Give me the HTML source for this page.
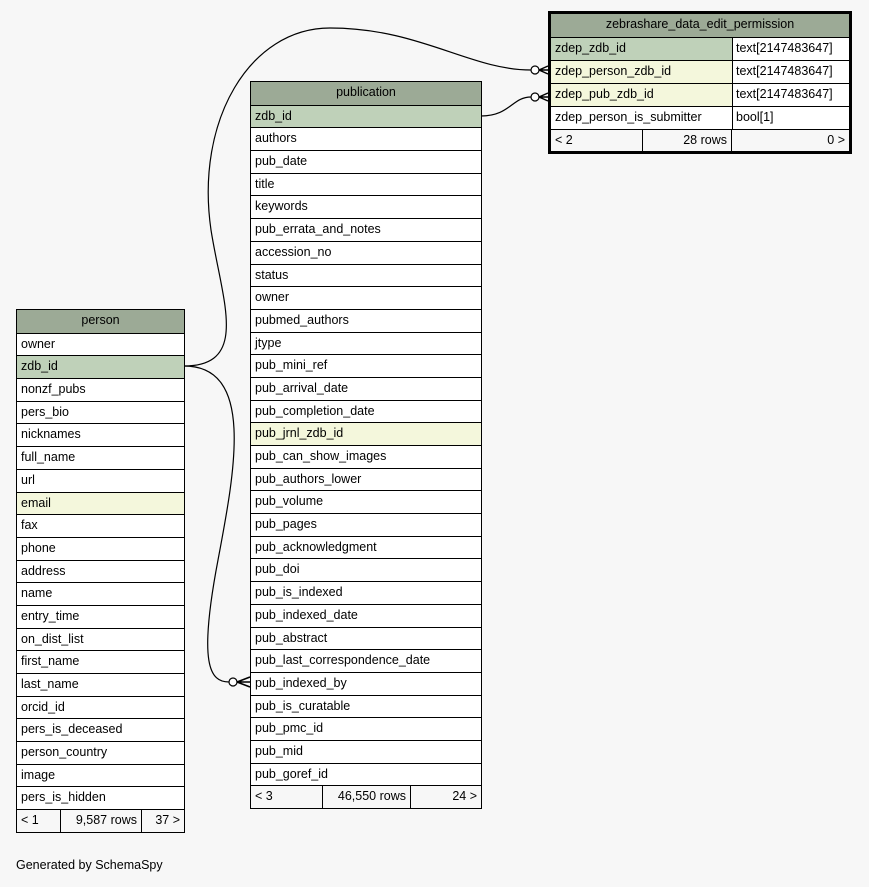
<!DOCTYPE html>
<html><head><meta charset="utf-8"><style>
body{margin:0;width:869px;height:887px;background:#f7f7f7;font-family:"Liberation Sans",sans-serif;font-size:12.5px;position:relative;overflow:hidden}
.t{position:absolute;border:1px solid #000;background:#fff;box-sizing:border-box}
.r{height:22.7px;box-sizing:border-box;border-top:1px solid #000;padding-left:4px;line-height:21px;white-space:nowrap;overflow:hidden;position:relative}
.h{background:#9caa96;text-align:center;padding:0;border-top:none}
.pk{background:#bfd1b9}.fk{background:#f4f7dc}
.f{display:flex;padding:0}
.f span{box-sizing:border-box;padding:0 4px;border-right:1px solid #000;height:100%}
.f span:last-child{border-right:none}
.ty{position:absolute;top:0;bottom:0;border-left:1px solid #000;padding-left:3px;background:#fff}
</style></head><body>

<div class="t" style="left:250px;top:81px;width:232px">
<div class="r h">publication</div>
<div class="r pk">zdb_id</div><div class="r">authors</div><div class="r">pub_date</div><div class="r">title</div><div class="r">keywords</div><div class="r">pub_errata_and_notes</div><div class="r">accession_no</div><div class="r">status</div><div class="r">owner</div><div class="r">pubmed_authors</div><div class="r">jtype</div><div class="r">pub_mini_ref</div><div class="r">pub_arrival_date</div><div class="r">pub_completion_date</div><div class="r fk">pub_jrnl_zdb_id</div><div class="r">pub_can_show_images</div><div class="r">pub_authors_lower</div><div class="r">pub_volume</div><div class="r">pub_pages</div><div class="r">pub_acknowledgment</div><div class="r">pub_doi</div><div class="r">pub_is_indexed</div><div class="r">pub_indexed_date</div><div class="r">pub_abstract</div><div class="r">pub_last_correspondence_date</div><div class="r">pub_indexed_by</div><div class="r">pub_is_curatable</div><div class="r">pub_pmc_id</div><div class="r">pub_mid</div><div class="r">pub_goref_id</div>
<div class="r f" style="background:#f7f7f7"><span style="width:72px">&lt; 3</span><span style="width:88px;text-align:right">46,550 rows</span><span style="flex:1;text-align:right">24 &gt;</span></div>
</div>

<div class="t" style="left:16px;top:309px;width:169px">
<div class="r h">person</div>
<div class="r">owner</div><div class="r pk">zdb_id</div><div class="r">nonzf_pubs</div><div class="r">pers_bio</div><div class="r">nicknames</div><div class="r">full_name</div><div class="r">url</div><div class="r fk">email</div><div class="r">fax</div><div class="r">phone</div><div class="r">address</div><div class="r">name</div><div class="r">entry_time</div><div class="r">on_dist_list</div><div class="r">first_name</div><div class="r">last_name</div><div class="r">orcid_id</div><div class="r">pers_is_deceased</div><div class="r">person_country</div><div class="r">image</div><div class="r">pers_is_hidden</div>
<div class="r f" style="background:#f7f7f7"><span style="width:44px">&lt; 1</span><span style="width:81px;text-align:right">9,587 rows</span><span style="flex:1;text-align:right">37 &gt;</span></div>
</div>

<div class="t" style="left:548px;top:11px;width:304px;border:3px solid #000">
<div class="r h" style="height:23px">zebrashare_data_edit_permission</div>
<div class="r pk" style="height:23px">zdep_zdb_id<span class="ty" style="left:181px;right:0">text[2147483647]</span></div>
<div class="r fk" style="height:23px">zdep_person_zdb_id<span class="ty" style="left:181px;right:0">text[2147483647]</span></div>
<div class="r fk" style="height:23px">zdep_pub_zdb_id<span class="ty" style="left:181px;right:0">text[2147483647]</span></div>
<div class="r" style="height:23px">zdep_person_is_submitter<span class="ty" style="left:181px;right:0">bool[1]</span></div>
<div class="r f" style="background:#f7f7f7;height:22px"><span style="width:92px">&lt; 2</span><span style="width:89px;text-align:right">28 rows</span><span style="flex:1;text-align:right">0 &gt;</span></div>
</div>

<svg style="position:absolute;left:0;top:0" width="869" height="887">
<g fill="none" stroke="#000" stroke-width="1.2">
<path d="M184,366 C250,366 222,300 211,230 C195,120 250,28 330,28 C420,28 470,70 531,70"/>
<path d="M481,116 C510,116 512,97 531,97"/>
<path d="M184,366 C255,366 235,470 218,560 C198,665 210,682 229,682"/>
</g>
<g fill="#fff" stroke="#000" stroke-width="1.2">
<circle cx="535" cy="70" r="4"/><circle cx="535" cy="97" r="4"/><circle cx="233" cy="682" r="4"/>
</g>
<g stroke="#000" stroke-width="1.5">
<path d="M539,70 L548,70 M539,70 L548,66 M539,70 L548,74"/>
<path d="M539,97 L548,97 M539,97 L548,93 M539,97 L548,101"/>
<path d="M237,682 L250,682 M237,682 L250,677 M237,682 L250,687"/>
</g>
</svg>

<div style="position:absolute;left:16px;top:858px;font-size:12.5px">Generated by SchemaSpy</div>
</body></html>
